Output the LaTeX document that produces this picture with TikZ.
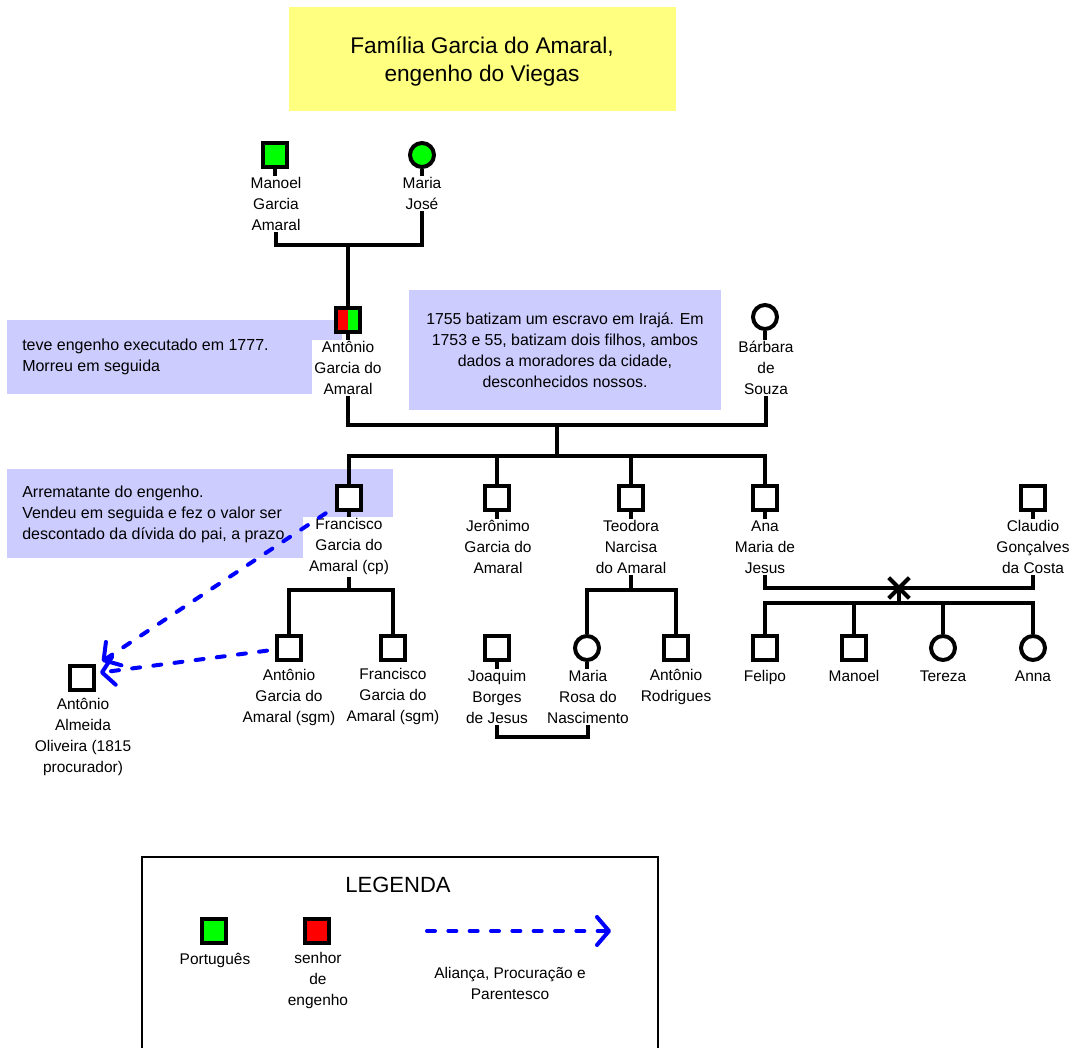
\documentclass[tikz,border=0pt]{standalone}
\usepackage{fontspec}
\setmainfont{Liberation Sans}
\usetikzlibrary{arrows.meta,shapes.misc}

\definecolor{pgreen}{RGB}{0,255,0}
\definecolor{pred}{RGB}{255,0,0}
\definecolor{pblue}{RGB}{0,0,255}
\definecolor{titlefill}{RGB}{255,255,128}
\definecolor{notefill}{RGB}{204,204,255}

\begin{document}
\begin{tikzpicture}[x=0.75pt,y=-0.75pt,
  kin/.style={line width=3pt},
  male/.style={draw, line width=3pt, minimum size=18pt, inner sep=0pt, fill=white},
  female/.style={circle, draw, line width=3pt, minimum size=18pt, inner sep=0pt, fill=white},
  lbl/.style={align=center, inner sep=1pt, font=\fontsize{11.6}{15.75}\selectfont},
  notebox/.style={fill=notefill, inner sep=0pt},
  notetext/.style={align=left, inner sep=0pt, font=\fontsize{12}{15.75}\selectfont},
  rel/.style={draw=pblue, line width=3pt, dash pattern=on 6pt off 10pt, line cap=round,
    -{Straight Barb[length=9pt,width=21pt,round]}},
  xmark/.style={cross out, draw, line width=3pt, minimum size=12.5pt, inner sep=0pt}
]
\useasboundingbox (0,0) rectangle (1076,1048);

% title
\node[fill=titlefill, minimum width=290.25pt, minimum height=78pt, inner sep=0pt] (title) at (482,59) {};
\node[align=center, inner sep=0pt, font=\fontsize{17}{21}\selectfont] (titleT) at (482,62)
  {Família Garcia do Amaral,\\engenho do Viegas};

% comment boxes
\node[notebox, minimum width=251.25pt, minimum height=55.5pt] (note1) at (174.5,357) {};
\node[notetext, anchor=west] (note1t) at (22,357)
  {teve engenho executado em 1777.\\Morreu em seguida};
\node[notebox, minimum width=234pt, minimum height=90pt, align=center,
  font=\fontsize{11.9}{15.75}\selectfont] (note2) at (565,350)
  {1755 batizam um escravo em Irajá. Em\\1753 e 55, batizam dois filhos, ambos\\dados a moradores da cidade,\\desconhecidos nossos.};
\node[notebox, minimum width=289.5pt, minimum height=66.75pt] (note3) at (200,513.5) {};
\node[notetext, anchor=west] (note3t) at (22,514.5)
  {Arrematante do engenho.\\Vendeu em seguida e fez o valor ser\\descontado da dívida do pai, a prazo.};

% first generation
\node[male, fill=pgreen] (manoel) at (275,155) {};
\node[lbl] (manoelL) at (276,204) {Manoel\\Garcia\\Amaral};
\node[female, fill=pgreen] (mariaJ) at (422,155) {};
\node[lbl] (mariaJL) at (422,193.5) {Maria\\José};

% second generation
\node[male, fill=pgreen, path picture={\fill[pred] (path picture bounding box.south west) rectangle (path picture bounding box.north);}] (antonio) at (348,320) {};
\node[lbl, fill=white, inner xsep=2pt] (antonioL) at (348,368) {Antônio\\Garcia do\\Amaral};
\node[female] (barbara) at (765,317) {};
\node[lbl] (barbaraL) at (766,368) {Bárbara\\de\\Souza};

% third generation
\node[male] (francisco) at (349,498) {};
\node[lbl, fill=white, inner xsep=4.5pt] (franciscoL) at (349,547) {Francisco\\Garcia do\\Amaral (cp)};
\node[male] (jeronimo) at (497,498) {};
\node[lbl] (jeronimoL) at (498,547) {Jerônimo\\Garcia do\\Amaral};
\node[male] (teodora) at (631,498) {};
\node[lbl] (teodoraL) at (631,547) {Teodora\\Narcisa\\do Amaral};
\node[male] (ana) at (765,498) {};
\node[lbl] (anaL) at (765,547) {Ana\\Maria de\\Jesus};
\node[male] (claudio) at (1033,498) {};
\node[lbl] (claudioL) at (1033,547) {Claudio\\Gonçalves\\da Costa};

% fourth generation
\node[male] (antonioS) at (289,648) {};
\node[lbl] (antonioSL) at (289,697) {Antônio\\Garcia do\\Amaral (sgm)};
\node[male] (franciscoS) at (393,648) {};
\node[lbl] (franciscoSL) at (393,697) {Francisco\\Garcia do\\Amaral (sgm)};
\node[male] (joaquim) at (497,648) {};
\node[lbl] (joaquimL) at (497,697) {Joaquim\\Borges\\de Jesus};
\node[female] (mariaR) at (587,648) {};
\node[lbl] (mariaRL) at (588,697) {Maria\\Rosa do\\Nascimento};
\node[male] (antonioR) at (676,648) {};
\node[lbl] (antonioRL) at (676,687) {Antônio\\Rodrigues};
\node[male] (felipo) at (765,648) {};
\node[lbl] (felipoL) at (765,678) {Felipo};
\node[male] (manoelF) at (854,648) {};
\node[lbl] (manoelFL) at (854,676) {Manoel};
\node[female] (tereza) at (943,648) {};
\node[lbl] (terezaL) at (943,676) {Tereza};
\node[female] (anna) at (1033,648) {};
\node[lbl] (annaL) at (1033,676) {Anna};

% attorney
\node[male] (almeida) at (82,678) {};
\node[lbl] (almeidaL) at (83,736.5) {Antônio\\Almeida\\Oliveira (1815\\procurador)};

% short stems between symbols and names
\foreach \p in {manoel,mariaJ,antonio,barbara,francisco,jeronimo,teodora,ana,claudio,joaquim,mariaR}
  \draw[kin] (\p.south) -- (\p.south |- \p L.north);

% junction points
\coordinate (m1) at (348,245);
\coordinate (m2) at (557,425);
\coordinate (c1) at (557,456);
\coordinate (f1) at (349,590);
\coordinate (t1) at (631,590);
\coordinate (j1) at (541,737);
\coordinate (a1) at (899,588);
\coordinate (a2) at (899,603);

% unions and descent lines
\draw[kin] (manoelL.south) |- (m1) -| (mariaJL.south);
\draw[kin] (m1) -- (antonio.north);
\draw[kin] (antonioL.south) |- (m2) -| (barbaraL.south);
\draw[kin] (m2) -- (c1);
\draw[kin] (francisco.north) |- (c1) -| (ana.north);
\draw[kin] (jeronimo.north) -- (jeronimo.north |- c1);
\draw[kin] (teodora.north) -- (teodora.north |- c1);

\draw[kin] (franciscoL.south) -- (f1);
\draw[kin] (antonioS.north) |- (f1) -| (franciscoS.north);
\draw[kin] (teodoraL.south) -- (t1);
\draw[kin] (mariaR.north) |- (t1) -| (antonioR.north);
\draw[kin] (joaquimL.south) |- (j1) -| (mariaRL.south);

\draw[kin] (anaL.south) |- (a1) -| (claudioL.south);
\draw[kin] (a1) -- (a2);
\node[xmark] (sep) at (a1) {};
\draw[kin] (felipo.north) |- (a2) -| (anna.north);
\draw[kin] (manoelF.north) -- (manoelF.north |- a2);
\draw[kin] (tereza.north) -- (tereza.north |- a2);

% alliance / power-of-attorney links
\draw[rel] ([xshift=-7pt,yshift=-1pt]francisco.south west) -- ([xshift=4.5pt,yshift=2pt]almeida.north east);
\draw[rel] ([xshift=-6pt,yshift=-2pt]antonioS.west) -- ([xshift=3pt,yshift=4pt]almeida.east);

% legend
\draw[line width=2.2pt] (142,1055) |- (658,857) -- (658,1055);
\node[font=\fontsize{16.5}{20}\selectfont, inner sep=0pt] (legT) at (398,885) {LEGENDA};
\node[male, fill=pgreen] (legG) at (214,931) {};
\node[lbl] (legGL) at (215,960) {Português};
\node[male, fill=pred] (legR) at (317,931) {};
\node[lbl] (legRL) at (318,980.5) {senhor\\de\\engenho};
\coordinate (legA) at (427,931);
\coordinate (legB) at (611,931);
\draw[rel] (legA) -- (legB);
\node[lbl] (legAL) at (510,983) {Aliança, Procuração e\\Parentesco};
\end{tikzpicture}
\end{document}
